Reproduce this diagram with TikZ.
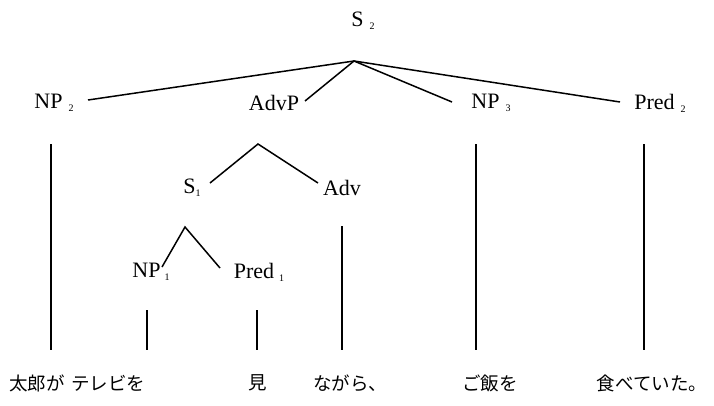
\documentclass[tikz,border=0pt]{standalone}
\usepackage{fontspec}
\setmainfont{Liberation Serif}
\newfontfamily\jpfont{Noto Sans CJK JP}
\newcommand{\subnum}[1]{\raisebox{-3pt}{\fontsize{10}{10}\selectfont #1}}
\begin{document}
\begin{tikzpicture}[x=1pt,y=-1pt,
  lab/.style={inner sep=0pt,font=\fontsize{22}{22}\selectfont},
  jp/.style={inner sep=0pt,font=\jpfont\fontsize{18.5}{18.5}\selectfont},
  br/.style={line width=1.5pt},
  vl/.style={line width=1.2pt}]
\useasboundingbox (0,0) rectangle (714,405);
% labels
\node[lab] (s2) at (363,21) {S\hspace{6pt}\subnum{2}};
\node[lab] (np2) at (54,103) {NP\hspace{6pt}\subnum{2}};
\node[lab] (advp) at (274,103) {AdvP};
\node[lab] (np3) at (491,103) {NP\hspace{6pt}\subnum{3}};
\node[lab] (pred2) at (660,103) {Pred\hspace{6pt}\subnum{2}};
\node[lab] (s1) at (192,188) {S\subnum{1}};
\node[lab] (adv) at (342,188) {Adv};
\node[lab] (np1) at (151,272) {NP\hspace{4pt}\subnum{1}};
\node[lab] (pred1) at (259,272) {Pred\hspace{5pt}\subnum{1}};
% words
\node[jp] (w1) at (37,383) {太郎が};
\node[jp] (w2) at (108,383) {テレビを};
\node[jp] (w3) at (258,383) {見};
\node[jp] (w4) at (350,383) {ながら、};
\node[jp] (w5) at (490,383) {ご飯を};
\node[jp] (w6) at (652,383) {食べていた。};
% branch points
\coordinate (top) at (354,61);
\coordinate (a1) at (88,100);
\coordinate (a2) at (305,101);
\coordinate (a3) at (452,102);
\coordinate (a4) at (620,102);
\coordinate (mid) at (258,144);
\coordinate (b1) at (210,183);
\coordinate (b2) at (318,183);
\coordinate (low) at (185,227);
\coordinate (c1) at (162,267);
\coordinate (c2) at (220,268);
\draw[br] (a1) -- (top) -- (a4);
\draw[br] (a2) -- (top) -- (a3);
\draw[br] (b1) -- (mid) -- (b2);
\draw[br] (c1) -- (low) -- (c2);
% vertical lines
\coordinate (v1t) at (51,144);  \coordinate (v1b) at (51,350);
\coordinate (v2t) at (476,144); \coordinate (v2b) at (476,350);
\coordinate (v3t) at (644,144); \coordinate (v3b) at (644,350);
\coordinate (v4t) at (342,226); \coordinate (v4b) at (342,350);
\coordinate (v5t) at (147,310); \coordinate (v5b) at (147,350);
\coordinate (v6t) at (257,310); \coordinate (v6b) at (257,350);
\draw[vl] (v1t) -- (v1b);
\draw[vl] (v2t) -- (v2b);
\draw[vl] (v3t) -- (v3b);
\draw[vl] (v4t) -- (v4b);
\draw[vl] (v5t) -- (v5b);
\draw[vl] (v6t) -- (v6b);
\end{tikzpicture}
\end{document}
